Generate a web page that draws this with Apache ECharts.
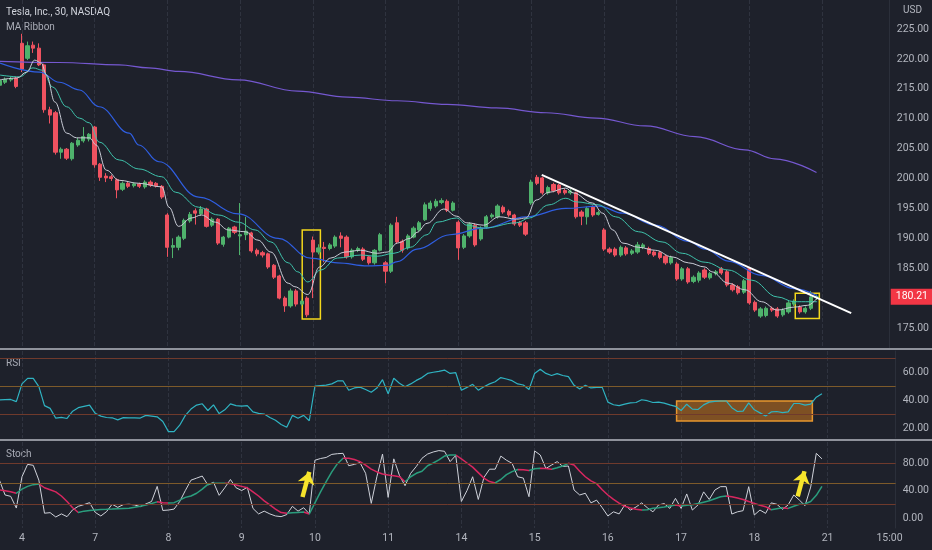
<!DOCTYPE html>
<html>
<head>
<meta charset="utf-8">
<script src="https://cdn.jsdelivr.net/npm/echarts/dist/echarts.min.js"></script>
<style>
html,body{margin:0;padding:0;background:#1e212b;}
#chart{width:932px;height:550px;}
</style>
</head>
<body>
<div id="chart"></div>
<script>
var chart = echarts.init(document.getElementById('chart'));

var UP = '#4fb26c', DOWN = '#ef5260';
var TXT = '#b2b5be';

// 30 min bars, index 0 = Nov 3 14:00
var opens = [215.6,216.1,216.5,216.8,222.6,220.1,222.3,221.8,219.0,211.5,
  211.0,204.4,204.9,203.3,205.6,206.3,206.6,208.6,202.4,200.4,
  200.3,199.8,198.2,199.2,198.8,199.1,198.6,199.4,199.2,198.7,
  193.9,188.5,188.5,190.0,192.9,194.6,194.1,194.9,192.2,193.2,
  189.0,190.2,191.9,190.4,190.6,190.9,188.0,187.6,187.4,185.5,
  183.7,180.0,178.7,181.2,179.0,180.0,189.7,187.7,188.5,188.3,
  188.7,190.4,190.2,186.9,188.0,188.2,186.9,185.9,188.0,185.9,
  184.5,192.6,189.5,188.4,190.2,191.4,193.1,195.0,195.4,196.0,
  196.2,194.7,192.7,188.5,190.4,192.2,189.9,191.9,193.6,193.6,
  195.2,194.5,193.9,192.6,192.6,195.9,200.2,200.1,197.6,199.0,
  198.9,198.0,197.6,197.6,194.4,193.6,195.2,194.0,191.4,188.2,
  188.2,187.2,188.4,187.5,187.7,188.5,188.3,187.7,187.6,187.0,
  185.9,185.7,183.2,184.9,182.8,183.0,184.7,183.4,184.1,184.9,
  184.4,182.2,181.9,181.0,184.9,179.3,177.0,177.1,178.3,178.2,
  177.2,177.7,179.0,178.5,177.7,178.3,180.2];
var closes = [216.4,216.6,216.7,215.4,218.3,222.2,221.8,219.0,211.5,210.6,
  204.4,204.9,203.4,205.9,206.4,207.0,207.4,202.3,200.2,200.1,
  200.0,198.1,199.2,198.7,199.1,198.7,199.4,198.9,198.8,196.9,
  188.5,188.8,190.2,193.0,194.0,194.2,194.9,192.0,193.2,189.2,
  190.2,191.7,191.0,190.6,191.2,187.9,187.4,187.2,185.2,183.5,
  180.0,178.7,181.2,179.0,179.5,177.2,187.7,188.4,188.3,188.9,
  190.2,190.0,186.9,188.0,188.3,186.5,185.9,188.0,190.6,184.5,
  192.2,189.4,188.0,190.4,191.7,192.6,195.6,195.9,196.2,196.3,
  194.7,195.9,188.4,190.4,192.4,188.9,191.7,193.6,193.9,195.4,
  194.4,193.9,192.4,192.2,190.7,199.4,199.2,197.6,198.5,198.0,
  197.6,197.6,197.9,193.6,193.7,195.0,193.9,194.3,188.2,187.7,
  187.2,188.5,187.4,187.9,188.9,188.9,187.5,187.2,186.8,185.9,
  186.8,183.2,184.9,182.7,183.5,184.2,183.5,184.1,184.4,184.2,
  182.2,181.4,180.9,182.9,179.2,178.0,178.2,178.3,178.0,177.0,
  178.0,179.2,179.5,177.7,178.3,180.2,180.21];
var lows = [215.2,215.8,216.2,215.1,217.8,219.8,221.0,218.8,211.0,209.2,
  204.0,203.3,203.1,203.0,205.3,206.0,206.2,201.8,199.6,199.4,
  199.6,196.7,197.9,198.4,198.5,198.4,198.3,198.6,198.5,196.6,
  186.9,186.7,188.0,189.7,192.6,192.3,193.8,191.8,191.9,188.9,
  188.6,190.0,190.7,187.2,189.7,187.6,187.0,186.8,184.9,183.2,
  179.8,177.7,178.4,178.6,178.7,176.8,180.0,187.3,186.0,188.0,
  188.4,188.5,186.6,186.6,187.7,186.2,185.6,185.6,187.8,182.5,
  184.2,189.1,187.6,188.1,190.0,191.1,192.9,194.6,195.1,195.7,
  194.4,194.5,186.4,188.2,190.1,188.6,189.6,191.6,193.3,193.3,
  194.1,193.6,192.1,191.9,190.4,195.6,198.9,197.3,197.3,197.7,
  197.3,197.3,197.3,193.3,192.2,192.3,193.6,193.8,187.9,187.4,
  186.9,186.9,187.1,187.2,187.4,188.2,187.2,186.9,186.5,185.6,
  185.6,182.9,182.9,182.4,182.5,182.6,183.2,183.1,183.8,183.9,
  181.9,181.1,180.6,180.7,178.9,177.7,176.7,176.8,177.7,176.7,
  176.9,177.4,178.7,177.4,177.4,178.0,179.7];
var highs = [216.7,216.9,217.0,217.0,224.2,222.9,222.9,222.6,219.2,212.0,
  211.3,205.2,205.1,206.1,206.8,208.6,207.6,208.8,202.6,200.9,
  200.6,200.0,199.5,199.5,199.4,199.3,199.7,199.7,199.4,198.9,
  194.2,190.0,190.5,193.3,194.4,195.0,195.4,195.1,193.5,193.4,
  190.4,191.9,192.1,195.9,193.6,191.1,188.3,187.9,187.6,185.7,
  183.9,180.3,181.6,181.5,179.8,180.3,190.3,189.0,189.4,189.2,
  190.5,191.0,190.5,188.3,188.6,188.5,187.1,188.2,190.9,186.2,
  192.5,193.6,189.8,190.7,192.0,192.9,196.0,196.3,196.6,196.7,
  196.5,196.2,193.0,190.7,192.7,192.5,192.0,193.9,194.2,195.7,
  195.5,194.8,194.1,192.9,192.9,199.8,200.6,200.3,198.8,199.3,
  199.1,198.3,198.2,197.8,194.7,195.3,195.5,194.6,191.7,188.5,
  188.5,188.8,188.7,188.2,189.4,189.2,188.6,188.0,187.9,187.3,
  187.1,186.0,185.2,185.2,183.8,184.5,185.0,184.4,184.7,185.2,
  184.7,182.5,182.2,183.2,185.2,179.6,178.5,178.6,178.6,178.5,
  178.3,179.5,179.8,178.8,178.6,181.2,180.6];

// MA ribbon, read as [bar index, price]
var maFast = [[0.1,216.5],[3.1,216.8],[4.9,217.8],[6.3,219.8],[7.5,219.3],[8.4,217.3],[9.9,212.8],
  [12.0,207.6],[13.8,206.8],[16.1,206.8],[17.3,205.6],[19.1,201.4],[21.4,199.7],[24.9,199.2],
  [29.0,198.6],[30.3,195.2],[32.0,192.0],[34.3,193.4],[36.1,193.9],[38.6,192.7],[40.9,191.4],
  [43.9,191.1],[46.2,189.7],[48.5,187.7],[51.6,182.5],[52.8,181.9],[55.1,180.6],[57.2,185.2],
  [59.2,186.7],[61.7,187.7],[64.5,188.0],[67.5,187.5],[69.3,187.7],[71.1,189.2],[73.4,190.0],
  [74.6,191.0],[76.4,192.5],[79.4,194.9],[81.7,193.7],[83.5,192.6],[86.5,192.2],[89.3,193.6],
  [92.4,193.2],[94.1,193.4],[95.9,196.4],[98.2,197.7],[101.2,198.4],[102.5,197.6],[106.0,195.9],
  [107.8,194.2],[109.6,191.4],[111.4,189.2],[114.2,188.5],[117.2,188.0],[120.2,186.9],[123.1,185.9],
  [126.1,185.2],[127.3,184.4],[130.2,182.5],[133.2,181.4],[136.2,179.4],[139.0,178.0],[142.0,178.5],
  [144.4,178.8],[146.1,180.0]];
var maMid = [[0.1,217.3],[3.6,217.0],[6.0,218.5],[7.7,218.1],[9.5,215.3],[12.0,212.0],[14.3,210.1],
  [16.1,209.3],[17.8,206.1],[21.4,203.1],[24.9,201.6],[29.0,200.3],[31.5,197.7],[35.6,195.2],
  [39.1,193.9],[42.7,192.7],[45.7,191.4],[48.5,189.4],[51.6,185.9],[53.3,184.4],[55.1,182.7],
  [57.4,184.7],[60.4,186.7],[64.5,187.2],[67.5,187.0],[70.5,187.5],[73.4,188.5],[76.4,190.6],
  [78.2,192.7],[81.7,193.4],[83.5,192.2],[86.5,191.7],[92.4,192.6],[94.7,193.4],[98.2,195.6],
  [101.2,196.7],[103.0,196.1],[107.1,195.6],[110.1,193.6],[114.2,191.1],[118.4,189.4],[122.0,187.5],
  [126.1,186.0],[130.2,184.7],[134.4,183.0],[139.0,180.2],[142.0,179.4],[146.1,179.4]];
var maSlow = [[0.1,219.3],[7.2,217.8],[10.7,216.1],[14.3,214.8],[17.8,212.0],[23.2,207.6],[24.9,205.6],
  [28.5,202.8],[35.6,196.9],[42.7,194.1],[49.8,190.0],[55.6,186.7],[60.4,185.9],[65.8,185.4],
  [69.3,185.5],[71.1,186.1],[74.6,188.2],[80.5,190.6],[86.5,191.7],[94.1,193.6],[101.2,195.0],
  [107.1,195.4],[111.4,194.2],[117.2,192.2],[123.1,189.5],[126.1,188.2],[130.2,186.2],[136.2,183.8],
  [142.0,181.6],[146.1,180.4]];
var maLong = [[0.1,219.6],[10.7,219.4],[21.4,219.0],[26.7,218.5],[32.0,217.9],[42.7,216.5],[53.3,214.6],
  [62.2,213.6],[71.1,213.0],[80.0,212.4],[88.8,211.8],[97.7,211.0],[106.6,210.1],[115.4,208.8],
  [124.3,207.0],[133.2,204.8],[138.5,203.3],[146.0,201.0]];

var rsi = [40,40.3,40.4,38.8,51.5,55.5,55.5,49.5,36,34,
  27,27.6,26.8,32,34.5,35.5,36.4,30.5,28.5,27.5,
  27.3,25.8,27.4,27.3,27.2,27.1,29,28.5,28,24.7,
  17.4,17.4,22,29,33.5,36.4,37.3,32.5,36.5,30.3,
  33,37.2,36,35.6,36,31.5,30.5,30,27.5,25.5,
  22.5,20.5,29,27,29,25.2,50,50.3,50.6,51.5,
  53.6,53.6,47,48.6,49.2,47.5,45.5,48.5,54.5,44.5,
  55.5,52,49.5,51.5,54,56,59,59.8,60.5,61.4,
  59,59.5,47,49,51.2,47,49.5,51.5,53,56,
  55,53.8,51.5,50.7,47.5,59,62,59,57.5,58.8,
  57.5,56.7,50.5,47.8,50.5,48.6,49,49,38.5,36.6,
  36,37,38,38.2,40.2,39.5,38.2,38.5,37.8,36.5,
  35.5,32.5,37,33.5,33.2,36.5,38.5,39,39.3,39.3,
  34.5,31.8,32,38,33,30.8,28.5,31.5,31.8,31,
  31.5,37.5,37.5,36.3,37,42,44.5];
var stochK = [55,33.5,31.5,14.5,60,78,76.6,55,7,7.8,
  1.5,6,2,12,17,19.5,22.3,8.2,3,9.2,
  20,15.5,19.5,20,19,16.5,20.5,24,46,11,
  11.6,13,24,40,55,58,61,48,52,33,
  44,56,44,40,44.6,14,6,10,6,3,
  2,5,17,10,15,6,84,86.5,88,92.5,
  93.5,94,76,78,80.5,65,21.3,60,93,30,
  86,62,47,65,75,86.8,93,96,98,97,
  82,91,24,40,60,27,59,71,71,90,
  84,79.5,60,58,31,97.5,91.6,72,77,82,
  75,75.6,40.7,33.5,36,22,26,15,3,9,
  6,19,11.6,16,22,15,9,19,21,14,
  28.6,14,35,11.6,19,38,27,40.7,45.6,45.6,
  5.8,9,10.7,45.6,4.4,11.6,6.8,22,20,12.6,
  19,33.5,26,18,45,94,86];
var stochD = [40.7,39.5,38.3,36,42,46,48.5,49.5,44,41,
  38,32,24,15,8,10,11,11.8,12.3,12.6,
  13,13.5,14,14.1,15.5,17,19,21,23.5,22.3,
  22,22.3,26,30,32,36,42,49,50.4,50.4,
  50.4,50,48,46,44,38,32,25,19,13,
  8,6.8,7.5,8.2,8.7,5.8,22,38,53,67,
  79,87,86.8,85,82,77,71,67,64,62.5,
  61.5,60.1,52.8,60,65,68,76,80,84.4,90,
  91.6,91.6,86,80,74,66,58,53,51,56,
  63,67.5,70.5,70,69,71.5,72.2,72,71,73,
  75.6,79.5,77,68,60,54,50,41,33.5,27,
  21.5,17,14.5,12.6,11.6,12,14.1,15,16,17.5,
  18.9,17.5,18.4,19.3,21,23,25,28,31,32,
  31,29,27,24,21.3,18.5,16.5,12,13.5,15,
  14,17,20,20.5,24,33,46];

var dayIdx = [4,17,30,43,56,69,82,95,108,121,134,147];
var tickIdx = dayIdx.concat([158]);
var tickText = ['4','7','8','9','10','11','14','15','16','17','18','21','15:00'];
var priceTicks = [175,185,190,195,200,205,210,215,220,225];
var rsiTicks = [20,40,60];
var stochTicks = [0,40,80];
var lastPrice = 180.21;

var candles = opens.map(function (o, i) { return [i, o, closes[i], lows[i], highs[i]]; });
function pairs(arr) { return arr.map(function (v, i) { return [i, v]; }); }

// %D colour by direction
var dPieces = [];
for (var i = 1; i < stochD.length; i++) {
  var c = stochD[i] >= stochD[i - 1] ? '#2a9d7d' : '#d8265f';
  var last = dPieces[dPieces.length - 1];
  if (last && last.color === c) last.lt = i;
  else dPieces.push({ gte: i - 1, lt: i, color: c });
}
dPieces[dPieces.length - 1].lt = 999;

function xAx(idx, showLabel) {
  return {
    type: 'value', gridIndex: idx, min: 0.1, max: 159.08,
    axisLine: { show: false },
    axisTick: { show: false, customValues: dayIdx },
    axisLabel: {
      show: showLabel, customValues: tickIdx, color: TXT, fontSize: 10.5, margin: 5,
      fontFamily: 'Roboto',
      formatter: function (v) { return tickText[tickIdx.indexOf(v)]; }
    },
    splitLine: { show: true, lineStyle: { color: '#2f333f', type: 'dashed', width: 1 } }
  };
}
function yAx(idx, min, max, ticks) {
  return {
    type: 'value', gridIndex: idx, position: 'right', min: min, max: max,
    axisLine: { show: true, lineStyle: { color: '#2b2f3a' } },
    axisTick: { show: false },
    splitLine: { show: false },
    axisLabel: {
      customValues: ticks, color: TXT, fontSize: 10.5, margin: 7, fontFamily: 'Roboto',
      formatter: function (v) { return v.toFixed(2); }
    }
  };
}
function band(v, color) {
  return { yAxis: v, lineStyle: { color: color, width: 1, type: 'solid' } };
}

chart.setOption({
  backgroundColor: '#1e212b',
  animation: false,
  textStyle: { fontFamily: 'Roboto' },
  grid: [
    { left: 0, right: 36, top: 0, height: 348 },
    { left: 0, right: 36, top: 351, height: 87 },
    { left: 0, right: 36, top: 442, height: 86 }
  ],
  xAxis: [xAx(0, false), xAx(1, false), xAx(2, true)],
  yAxis: [
    yAx(0, 171.66, 229.85, priceTicks),
    yAx(1, 12.86, 75, rsiTicks),
    yAx(2, -14.5, 110.5, stochTicks)
  ],
  visualMap: [{
    type: 'piecewise', show: false, seriesIndex: 7, dimension: 0, pieces: dPieces
  }],
  series: [
    {
      type: 'candlestick', xAxisIndex: 0, yAxisIndex: 0, data: candles,
      encode: { x: 0, y: [1, 2, 3, 4] }, barWidth: 3.7,
      itemStyle: { color: UP, color0: DOWN, borderColor: UP, borderColor0: DOWN, borderWidth: 1 }
    },
    {
      type: 'line', xAxisIndex: 0, yAxisIndex: 0, data: maLong, showSymbol: false,
      smooth: 0.4, smoothMonotone: 'x', lineStyle: { color: '#7558d0', width: 1.2 }
    },
    {
      type: 'line', xAxisIndex: 0, yAxisIndex: 0, data: maSlow, showSymbol: false,
      smooth: 0.4, smoothMonotone: 'x', lineStyle: { color: '#2f5ee0', width: 1.2 }
    },
    {
      type: 'line', xAxisIndex: 0, yAxisIndex: 0, data: maMid, showSymbol: false,
      smooth: 0.4, smoothMonotone: 'x', lineStyle: { color: '#3fc2ab', width: 1 }
    },
    {
      type: 'line', xAxisIndex: 0, yAxisIndex: 0, data: maFast, showSymbol: false,
      smooth: 0.4, smoothMonotone: 'x', lineStyle: { color: '#c9ccd6', width: 1 },
      markLine: {
        silent: true, symbol: ['none', 'none'], label: { show: false },
        data: [
          [{ coord: [96.9, 200.6], lineStyle: { color: '#ffffff', width: 2, type: 'solid' } },
           { coord: [152.2, 177.5] }],
          {
            yAxis: lastPrice, lineStyle: { color: 'rgba(0,0,0,0)', width: 0 },
            label: {
              show: true, position: 'end', distance: 1, formatter: lastPrice.toFixed(2),
              backgroundColor: '#f23645', color: '#ffffff', padding: [3, 5, 2, 5], fontSize: 10.5
            }
          }
        ]
      },
      markArea: {
        silent: true,
        itemStyle: { color: 'rgba(0,0,0,0)', borderColor: '#f3d71c', borderWidth: 1.5 },
        data: [
          [{ coord: [54.1, 191.4] }, { coord: [57.35, 176.5] }],
          [{ coord: [142.2, 180.8] }, { coord: [146.5, 176.6] }]
        ]
      }
    },
    {
      type: 'line', xAxisIndex: 1, yAxisIndex: 1, data: pairs(rsi), showSymbol: false,
      lineStyle: { color: '#2fb3c2', width: 1.2 },
      markLine: {
        silent: true, symbol: ['none', 'none'], label: { show: false },
        data: [band(70, '#6f3a2c'), band(50, '#7d5a2a'), band(30, '#6f3a2c')]
      },
      markArea: {
        silent: true,
        itemStyle: { color: 'rgba(205,120,30,0.55)', borderColor: '#e8962e', borderWidth: 1.5 },
        data: [[{ coord: [120.2, 39.3] }, { coord: [144.3, 25] }]]
      }
    },
    {
      type: 'line', xAxisIndex: 2, yAxisIndex: 2, data: pairs(stochK), showSymbol: false,
      lineStyle: { color: '#cfd2da', width: 1 },
      markLine: {
        silent: true, symbol: ['none', 'none'], label: { show: false },
        data: [
          band(80, '#6f3a2c'), band(50, '#7d5a2a'), band(20, '#6f3a2c'),
          [{ coord: [53.8, 30.5], symbol: 'none', lineStyle: { color: '#f6e42c', width: 4.5, type: 'solid' } },
           { coord: [55.0, 67], symbol: 'arrow', symbolSize: [13, 12] }],
          [{ coord: [141.7, 31.5], symbol: 'none', lineStyle: { color: '#f6e42c', width: 4.5, type: 'solid' } },
           { coord: [142.9, 68], symbol: 'arrow', symbolSize: [13, 12] }]
        ]
      }
    },
    {
      type: 'line', xAxisIndex: 2, yAxisIndex: 2, data: pairs(stochD), showSymbol: false,
      lineStyle: { width: 1.5 }
    }
  ],
  graphic: [
    { type: 'text', left: 6, top: 7, style: { text: 'Tesla, Inc., 30, NASDAQ', fill: '#d1d4dc', font: '10px Roboto' } },
    { type: 'text', left: 6, top: 22, style: { text: 'MA Ribbon', fill: '#a9acb6', font: '10px Roboto' } },
    { type: 'text', left: 6, top: 358, style: { text: 'RSI', fill: '#a9acb6', font: '10px Roboto' } },
    { type: 'text', left: 6, top: 449, style: { text: 'Stoch', fill: '#a9acb6', font: '10px Roboto' } },
    { type: 'text', left: 903, top: 5, style: { text: 'USD', fill: TXT, font: '10px Roboto' } },
    { type: 'rect', left: 0, top: 348, z: 100, shape: { width: 932, height: 2 }, style: { fill: '#8f929b' } },
    { type: 'rect', left: 0, top: 439, z: 100, shape: { width: 932, height: 2 }, style: { fill: '#8f929b' } }
  ]
});
</script>
</body>
</html>
